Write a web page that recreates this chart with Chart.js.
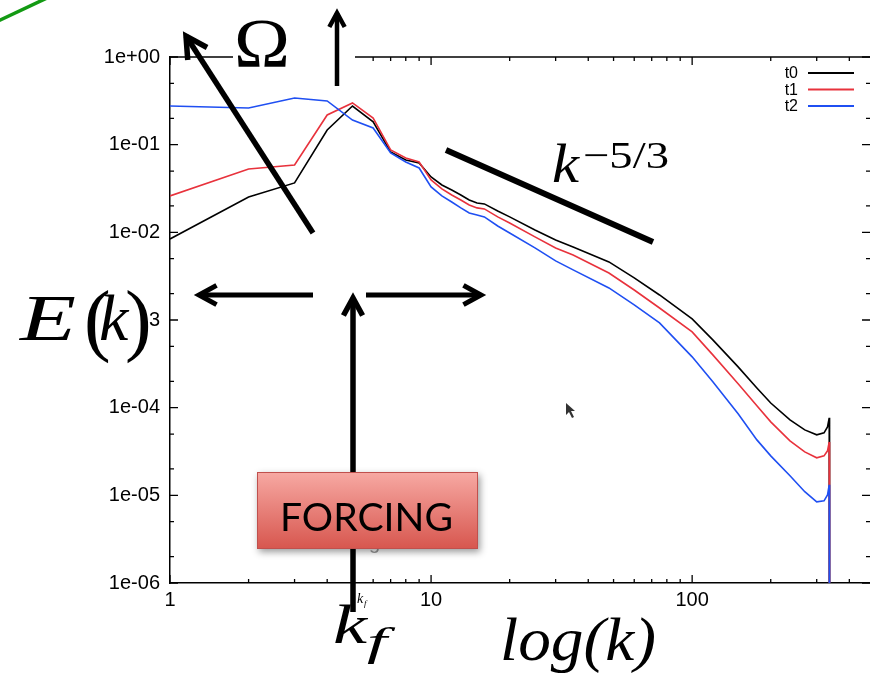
<!DOCTYPE html>
<html><head><meta charset="utf-8">
<script src="https://cdn.jsdelivr.net/npm/chart.js@4.4.0/dist/chart.umd.min.js"></script>
<style>html,body{margin:0;padding:0;background:#fff;overflow:hidden}#wrap{width:870px;height:678px;position:relative}</style>
</head><body><div id="wrap"><canvas id="c" width="870" height="678"></canvas></div>
<script>
// wavenumbers k (last duplicated bin = cutoff drop)
const k  = [1,2,3,4,5,6,7,8,9,10,11,12,13,14,15,16,18,20,25,30,35,48,60,75,100,120,150,177,200,237,270,300,320,330,335,336];
const t0 = [8.4e-3,2.53e-2,3.66e-2,0.147,0.276,0.182,0.0826,0.0669,0.0618,0.0428,0.0347,0.0304,0.0267,0.0234,0.0216,0.0211,0.0175,0.0150,0.01065,8.19e-3,6.82e-3,4.6e-3,3.02e-3,1.93e-3,1.03e-3,5.93e-4,2.92e-4,1.68e-4,1.13e-4,7.26e-5,5.58e-5,4.9e-5,5.16e-5,6.04e-5,7.65e-5,1e-9];
const t1 = [0.026,0.0528,0.0587,0.218,0.299,0.201,0.087,0.0705,0.0635,0.0396,0.0313,0.0267,0.0234,0.0205,0.0190,0.0185,0.0150,0.0128,8.87e-3,6.64e-3,5.52e-3,3.44e-3,2.2e-3,1.37e-3,7.31e-4,4.0e-4,1.87e-4,1.05e-4,6.89e-5,4.18e-5,3.13e-5,2.68e-5,2.82e-5,3.22e-5,4.07e-5,1e-9];
const t2 = [0.276,0.262,0.341,0.315,0.191,0.155,0.0804,0.0635,0.0542,0.033,0.026,0.0222,0.019,0.0166,0.0158,0.0150,0.0118,9.84e-3,6.64e-3,4.72e-3,3.73e-3,2.32e-3,1.49e-3,9.27e-4,3.8e-4,1.97e-4,8.5e-5,4.29e-5,2.82e-5,1.67e-5,1.1e-5,8.43e-6,8.65e-6,1.01e-5,1.32e-5,1e-9];
const seriesNames  = ['t0','t1','t2'];
const seriesColors = ['#000000','#e8323c','#1f4ff2'];
const xTickValues = [1,10,100];
const xTickLabels = ['1','10','100'];
const yTickValues = [1,1e-1,1e-2,1e-3,1e-4,1e-5,1e-6];
const yTickLabels = ['1e+00','1e-01','1e-02','1e-03','1e-04','1e-05','1e-06'];

function findLabel(vals, labels, v){
  const i = vals.findIndex(a => Math.abs(Math.log10(a) - Math.log10(v)) < 1e-6);
  return i >= 0 ? labels[i] : '';
}

const series = [t0,t1,t2];
const datasets = series.map((s,j)=>({
  label: seriesNames[j],
  data: k.map((x,i)=>({x:x, y:s[i]})),
  borderColor: seriesColors[j],
  backgroundColor: seriesColors[j],
  borderWidth: 1.6,
  pointRadius: 0,
  tension: 0,
  order: 2-j
}));

function arrow(ctx,x1,y1,x2,y2,lw,hl){
  ctx.save(); ctx.strokeStyle='#000'; ctx.lineWidth=lw; ctx.lineCap='butt'; ctx.lineJoin='miter';
  ctx.beginPath(); ctx.moveTo(x1,y1); ctx.lineTo(x2,y2); ctx.stroke();
  const a=Math.atan2(y2-y1,x2-x1), s=0.5;
  ctx.beginPath();
  ctx.moveTo(x2-hl*Math.cos(a-s), y2-hl*Math.sin(a-s));
  ctx.lineTo(x2,y2);
  ctx.lineTo(x2-hl*Math.cos(a+s), y2-hl*Math.sin(a+s));
  ctx.stroke(); ctx.restore();
}
function txt(ctx,s,x,y,font,o){
  o=o||{}; ctx.save(); ctx.font=font; ctx.textAlign=o.align||'left'; ctx.textBaseline='alphabetic';
  ctx.fillStyle=o.color||'#000';
  if(o.w){const m=ctx.measureText(s).width; ctx.translate(x,y); ctx.scale(o.w/m,1); ctx.fillText(s,0,0);}
  else ctx.fillText(s,x,y);
  ctx.restore();
}

const frame = {
  id:'frame',
  beforeDraw(chart){const c=chart.ctx; c.save(); c.fillStyle='#fff'; c.fillRect(0,0,chart.width,chart.height); c.restore();},
  afterDatasetsDraw(chart){
    const c=chart.ctx, a=chart.chartArea, xs=chart.scales.x, ys=chart.scales.y;
    c.save(); c.strokeStyle='#000'; c.lineWidth=1.5;
    c.beginPath(); c.moveTo(a.left,a.top); c.lineTo(a.right,a.top); c.stroke();
    c.lineWidth=1.3;
    const xMaj=xTickValues, xMin=[];
    for(const d of [1,10,100]) for(let m=2;m<=9;m++){const v=m*d; if(v<xs.max) xMin.push(v);}
    const yMin=[];
    for(const d of yTickValues) for(const m of [2,5]){const v=m*d; if(v<ys.max) yMin.push(v);}
    c.beginPath();
    for(const v of xMaj){const p=xs.getPixelForValue(v); c.moveTo(p,a.bottom); c.lineTo(p,a.bottom-8); c.moveTo(p,a.top); c.lineTo(p,a.top+8);}
    for(const v of xMin){const p=xs.getPixelForValue(v); c.moveTo(p,a.bottom); c.lineTo(p,a.bottom-4); c.moveTo(p,a.top); c.lineTo(p,a.top+4);}
    for(const v of yTickValues){const p=ys.getPixelForValue(v); c.moveTo(a.left,p); c.lineTo(a.left+8,p); c.moveTo(a.right,p); c.lineTo(a.right-8,p);}
    for(const v of yMin){const p=ys.getPixelForValue(v); c.moveTo(a.left,p); c.lineTo(a.left+4,p); c.moveTo(a.right,p); c.lineTo(a.right-4,p);}
    c.stroke();
    // gnuplot-style key
    const ds=chart.data.datasets;
    ds.forEach((d,i)=>{
      const y=73+i*16.5;
      txt(c,d.label,798,y+5,'16px "Liberation Sans"',{align:'right'});
      c.strokeStyle=d.borderColor; c.lineWidth=1.8;
      c.beginPath(); c.moveTo(808,y); c.lineTo(854,y); c.stroke();
    });
    c.restore();
  },
  afterDraw(chart){
    const c=chart.ctx;
    c.save();
    // green slide line
    c.strokeStyle='#139a13'; c.lineWidth=3.5; c.beginPath(); c.moveTo(-2,21); c.lineTo(47,-2); c.stroke();
    // Omega label
    c.fillStyle='#fff'; c.fillRect(233,0,122,80);
    txt(c,'Ω',234,67,'70px "Liberation Serif"',{w:56});
    arrow(c,337,86,337,13,4.5,16);
    // diagonal arrow
    arrow(c,313,233,186,36,5.5,24);
    // horizontal arrows
    arrow(c,313,295,199,295,5,20);
    arrow(c,366,295,481,295,5,20);
    // vertical forcing arrow
    arrow(c,353,612,353,298,5.5,20);
    // faint gnuplot labels
    txt(c,'forcing',350,549,'20px "Liberation Sans"',{align:'center',color:'#9a9a9a'});
    txt(c,'k',357,603,'italic 14px "Liberation Serif"',{});
    txt(c,'f',364,606,'italic 9px "Liberation Serif"',{});
    // FORCING box
    c.save();
    c.shadowColor='rgba(0,0,0,0.4)'; c.shadowBlur=7; c.shadowOffsetX=2; c.shadowOffsetY=3;
    const g=c.createLinearGradient(0,472,0,549); g.addColorStop(0,'#f7a9a3'); g.addColorStop(1,'#d7564e');
    c.fillStyle=g; c.fillRect(257,472,221,77);
    c.restore();
    c.strokeStyle='#c0504d'; c.lineWidth=1; c.strokeRect(257.5,472.5,220,76);
    txt(c,'FORCING',280,531,'39px Lato',{w:173});
    // E(k)
    c.fillStyle='#fff'; c.fillRect(0,262,148,104);
    txt(c,'E',20,340,'italic 66px "Liberation Serif"',{w:56});
    txt(c,'(',84,346,'80px "Liberation Serif"',{});
    txt(c,'k',99,340,'italic 66px "Liberation Serif"',{});
    txt(c,')',125,346,'80px "Liberation Serif"',{});
    // k^-5/3
    c.strokeStyle='#000'; c.lineWidth=6; c.beginPath(); c.moveTo(446,150); c.lineTo(653,242); c.stroke();
    txt(c,'k',552,182,'italic 54px "Liberation Serif"',{w:27});
    txt(c,'−5/3',583,168,'38px "Liberation Serif"',{w:86});
    // k_f
    txt(c,'k',333,643,'italic 54px "Liberation Serif"',{w:34});
    txt(c,'f',367,655,'italic 40px "Liberation Serif"',{w:20});
    // log(k)
    txt(c,'log(k)',500,660,'italic 62px "Liberation Serif"',{w:156});
    // mouse cursor
    c.fillStyle='#333'; c.beginPath(); c.moveTo(566,403); c.lineTo(566,415); c.lineTo(569,412); c.lineTo(572,418); c.lineTo(574,417); c.lineTo(571,411); c.lineTo(575,411); c.closePath(); c.fill();
    c.restore();
  }
};

new Chart(document.getElementById('c'),{
  type:'line',
  data:{datasets},
  options:{
    responsive:false, animation:false, devicePixelRatio:1,
    layout:{padding:{top:57,right:0,bottom:0,left:0}},
    plugins:{legend:{display:false}, tooltip:{enabled:false}},
    scales:{
      x:{type:'logarithmic', position:'bottom', min:1, max:480,
        afterBuildTicks: ax=>{ax.ticks=xTickValues.map(v=>({value:v}));},
        afterFit: ax=>{ax.height=95;},
        ticks:{autoSkip:false, maxRotation:0, padding:5, color:'#000', font:{family:'Liberation Sans', size:20},
          callback:(v)=>findLabel(xTickValues,xTickLabels,v)},
        grid:{display:false, drawTicks:false},
        border:{display:true, color:'#000', width:1.5}
      },
      y:{type:'logarithmic', position:'left', min:1e-6, max:1,
        afterBuildTicks: ax=>{ax.ticks=yTickValues.map(v=>({value:v}));},
        afterFit: ax=>{ax.width=170;},
        ticks:{autoSkip:false, padding:10, color:'#000', font:{family:'Liberation Sans', size:20},
          callback:(v)=>findLabel(yTickValues,yTickLabels,v)},
        grid:{display:false, drawTicks:false},
        border:{display:true, color:'#000', width:1.5}
      }
    }
  },
  plugins:[frame]
});
</script></body></html>
